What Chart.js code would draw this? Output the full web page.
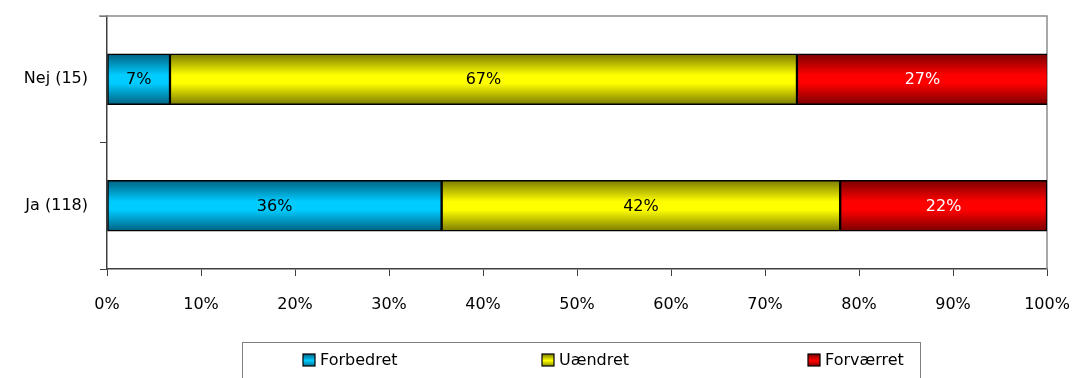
<!DOCTYPE html>
<html>
<head>
<meta charset="utf-8">
<script src="https://cdn.jsdelivr.net/npm/chart.js@4/dist/chart.umd.min.js"></script>
<style>
  html, body { margin: 0; padding: 0; background: #ffffff; }
  #wrap { width: 1073px; height: 378px; position: relative; }
</style>
</head>
<body>
<div id="wrap"><canvas id="c" width="1073" height="378"></canvas></div>
<script>
// Categories (top to bottom) and the share of each answer, in percent
const categories = ['Nej (15)', 'Ja (118)'];
const seriesNames = ['Forbedret', 'Uændret', 'Forværret'];
const forbedret = [6.7, 35.6];
const uaendret = [66.7, 42.4];
const forvaerret = [26.7, 22.0];

const FONT = '"DejaVu Sans", sans-serif';
const BAR_THICKNESS = 51;

// Excel-like fill: dark edges, bright band in the middle of each bar
function barFill(light, dark) {
  return (ctx) => {
    const chart = ctx.chart;
    if (!chart.chartArea || ctx.type !== 'data') return light;
    const y = chart.scales.y.getPixelForValue(ctx.dataIndex);
    const h = BAR_THICKNESS / 2;
    const g = chart.ctx.createLinearGradient(0, y - h, 0, y + h);
    g.addColorStop(0, dark);
    g.addColorStop(0.42, light);
    g.addColorStop(0.58, light);
    g.addColorStop(1, dark);
    return g;
  };
}

const styles = [
  { light: '#00CCFF', dark: '#006080', text: '#000000' },
  { light: '#FFFF00', dark: '#7a7a00', text: '#000000' },
  { light: '#FF0000', dark: '#7a0000', text: '#ffffff' }
];
const seriesValues = [forbedret, uaendret, forvaerret];

const datasets = seriesNames.map((name, i) => ({
  label: name,
  data: seriesValues[i],
  backgroundColor: barFill(styles[i].light, styles[i].dark),
  borderColor: '#000000',
  borderWidth: 1.5,
  borderSkipped: false,
  barThickness: BAR_THICKNESS,
  labelColor: styles[i].text,
  swatchLight: styles[i].light,
  swatchDark: styles[i].dark
}));

// Gray frame on the top and right of the plot area
const plotFrame = {
  id: 'plotFrame',
  beforeDatasetsDraw(chart) {
    const { ctx, chartArea: a } = chart;
    ctx.save();
    ctx.strokeStyle = '#8c8c8c';
    ctx.lineWidth = 1.5;
    ctx.beginPath();
    ctx.moveTo(a.left - 8, a.top);
    ctx.lineTo(a.right, a.top);
    ctx.lineTo(a.right, a.bottom);
    ctx.stroke();
    ctx.restore();
  }
};

// Percentage written in the middle of each segment
const valueLabels = {
  id: 'valueLabels',
  afterDatasetsDraw(chart) {
    const ctx = chart.ctx;
    ctx.save();
    ctx.font = '16px ' + FONT;
    ctx.textAlign = 'center';
    ctx.textBaseline = 'middle';
    chart.data.datasets.forEach((ds, di) => {
      const meta = chart.getDatasetMeta(di);
      meta.data.forEach((bar, i) => {
        const p = bar.getProps(['x', 'y', 'base'], true);
        ctx.fillStyle = ds.labelColor;
        ctx.fillText(Math.round(ds.data[i]) + '%', (p.x + p.base) / 2, p.y + 1);
      });
    });
    ctx.restore();
  }
};

// Boxed legend below the axis
const boxLegend = {
  id: 'boxLegend',
  afterDraw(chart, args, opts) {
    const ctx = chart.ctx;
    ctx.save();
    ctx.strokeStyle = '#808080';
    ctx.lineWidth = 1;
    ctx.strokeRect(opts.left + 0.5, opts.top + 0.5, opts.right - opts.left, 80);
    ctx.font = '16px ' + FONT;
    ctx.textBaseline = 'middle';
    ctx.textAlign = 'left';
    const cy = opts.top + 18;
    chart.data.datasets.forEach((ds, i) => {
      const x = opts.itemX[i];
      const g = ctx.createLinearGradient(0, cy - 6, 0, cy + 7);
      g.addColorStop(0, ds.swatchDark);
      g.addColorStop(0.5, ds.swatchLight);
      g.addColorStop(1, ds.swatchDark);
      ctx.fillStyle = g;
      ctx.fillRect(x, cy - 6, 12, 12);
      ctx.strokeStyle = '#000000';
      ctx.lineWidth = 1.2;
      ctx.strokeRect(x, cy - 6, 12, 12);
      ctx.fillStyle = '#000000';
      ctx.fillText(ds.label, x + 17, cy + 1);
    });
    ctx.restore();
  }
};

function noEdgePadding(scale) {
  scale.paddingTop = 0;
  scale.paddingBottom = 0;
  scale.paddingLeft = 0;
  scale.paddingRight = 0;
}

new Chart(document.getElementById('c'), {
  type: 'bar',
  data: { labels: categories, datasets: datasets },
  options: {
    indexAxis: 'y',
    responsive: false,
    animation: false,
    layout: { padding: { top: 16, right: 26, left: 0, bottom: 0 } },
    scales: {
      x: {
        stacked: true,
        min: 0,
        max: 100,
        ticks: {
          stepSize: 10,
          padding: 19,
          color: '#000000',
          font: { family: FONT, size: 16 },
          callback: (v) => v + '%'
        },
        grid: { drawOnChartArea: false, drawTicks: true, tickLength: 7, color: '#404040', lineWidth: 1 },
        border: { display: true, color: '#404040', width: 1.5 },
        afterFit: (scale) => { scale.height = 109; noEdgePadding(scale); }
      },
      y: {
        stacked: true,
        offset: true,
        ticks: {
          padding: 12,
          color: '#000000',
          font: { family: FONT, size: 16 }
        },
        grid: { offset: true, drawOnChartArea: false, drawTicks: true, tickLength: 7, color: '#404040', lineWidth: 1 },
        border: { display: true, color: '#404040', width: 1.5 },
        afterFit: (scale) => { scale.width = 107; noEdgePadding(scale); }
      }
    },
    plugins: {
      legend: { display: false },
      tooltip: { enabled: false },
      boxLegend: { left: 242, right: 920, top: 342, itemX: [303, 542, 808] }
    }
  },
  plugins: [plotFrame, valueLabels, boxLegend]
});
</script>
</body>
</html>
